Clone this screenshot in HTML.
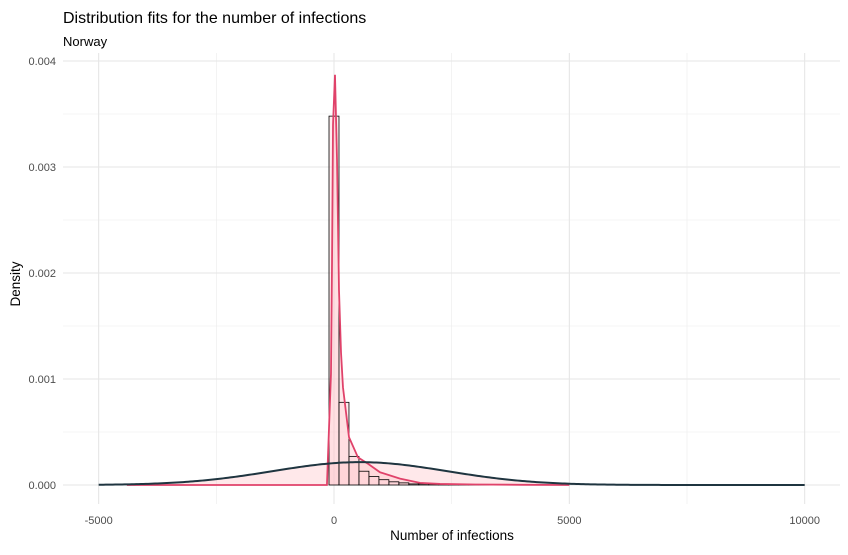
<!DOCTYPE html>
<html><head><meta charset="utf-8"><style>
body{margin:0;background:#fff;font-family:"Liberation Sans",Arial,sans-serif;}
</style></head><body>
<svg width="848" height="550" xmlns="http://www.w3.org/2000/svg">
<g id="grid"></g>
<g id="marks"></g>
<text x="63" y="23" font-size="16" fill="#000">Distribution fits for the number of infections</text>
<text x="63" y="46" font-size="13" fill="#000">Norway</text>
<text x="452" y="540" font-size="13.5" text-anchor="middle" fill="#000">Number of infections</text>
<text transform="translate(20,284) rotate(-90)" font-size="13.5" text-anchor="middle" fill="#000">Density</text>
<g id="ticks"></g>
</svg>
<script>
const xTicks=[-5000,0,5000,10000];
const xTickLabels=["-5000","0","5000","10000"];
const yTicks=[0,0.001,0.002,0.003,0.004];
const yTickLabels=["0.000","0.001","0.002","0.003","0.004"];
const binCenters=[0,212,424,636,848,1060,1272,1484,1696,1908,2120,2332,2544,2756,2968,3180,3392];
const binValues=[0.00348,0.00078,0.00027,0.00013,0.00008,0.00005,0.00003,0.00002,0.00001,0.00001,0.00001,0.000005,0.000005,0.000005,0.000005,0.000005,0.000005];
const binWidth=212;
const kdeX=[-4400,-150,-64,-42,-21,21,64,106,149,191,319,510,722,977,1402,1827,2252,3000,4000,5000];
const kdeY=[0,0,0.00105,0.0021,0.0034,0.00387,0.00307,0.00184,0.00125,0.00092,0.00045,0.00026,0.0002,0.00012,0.00006,0.00002,0.00001,0.000005,0.000002,0];
const normMean=550, normSd=1850, normFrom=-5000, normTo=10000;
const sx=v=>334+v*0.047067;
const sy=v=>485-v*106000;
const NS="http://www.w3.org/2000/svg";
function mk(tag,attrs,parent){const e=document.createElementNS(NS,tag);for(const k in attrs)e.setAttribute(k,attrs[k]);parent.appendChild(e);return e;}
const grid=document.getElementById('grid'),marks=document.getElementById('marks'),ticks=document.getElementById('ticks');
// minor grid
for(let i=0;i<xTicks.length-1;i++){const v=(xTicks[i]+xTicks[i+1])/2;const l=mk('line',{x1:sx(v),x2:sx(v),y1:53,y2:504,stroke:'#ebebeb','stroke-width':0.6},grid);
}
for(let i=0;i<yTicks.length-1;i++){const v=(yTicks[i]+yTicks[i+1])/2;const l=mk('line',{x1:63,x2:840,y1:sy(v),y2:sy(v),stroke:'#ebebeb','stroke-width':0.6},grid);
}
xTicks.forEach((v,i)=>{const l=mk('line',{x1:sx(v),x2:sx(v),y1:53,y2:504,stroke:'#e6e6e6','stroke-width':1.1},grid);

const t=mk('text',{x:sx(v),y:524,'font-size':11,'text-anchor':'middle',fill:'#4d4d4d'},ticks);t.textContent=xTickLabels[i];
});
yTicks.forEach((v,i)=>{const l=mk('line',{x1:63,x2:840,y1:sy(v),y2:sy(v),stroke:'#e6e6e6','stroke-width':1.1},grid);

const t=mk('text',{x:56,y:sy(v)+4,'font-size':11,'text-anchor':'end',fill:'#4d4d4d'},ticks);t.textContent=yTickLabels[i];
});
// normal
const npts=[];for(let v=normFrom;v<=normTo;v+=50){const d=Math.exp(-0.5*((v-normMean)/normSd)**2)/(normSd*2.5066);npts.push([sx(v),sy(d)]);}
const fillPts=npts.filter(p=>p[0]>=sx(-4400)&&p[0]<=sx(5000));
const nf=mk('path',{d:'M'+fillPts[0][0]+','+sy(0)+'L'+fillPts.map(p=>p.join(',')).join('L')+'L'+fillPts[fillPts.length-1][0]+','+sy(0)+'Z',fill:'rgba(255,180,185,0.3)'},marks);

// kde fill
const kp=kdeX.map((v,i)=>[sx(v),sy(kdeY[i])]);
const kf=mk('path',{d:'M'+kp[0][0]+','+sy(0)+'L'+kp.map(p=>p.join(',')).join('L')+'L'+kp[kp.length-1][0]+','+sy(0)+'Z',fill:'rgba(255,180,185,0.3)'},marks);

// bars
binCenters.forEach((c,i)=>{const x0=sx(c-binWidth/2),x1=sx(c+binWidth/2);
const r=mk('rect',{x:x0,y:sy(binValues[i]),width:x1-x0,height:sy(0)-sy(binValues[i]),fill:'rgba(255,210,215,0.4)',stroke:'#000','stroke-width':0.8},marks);
});
const kl=mk('polyline',{points:kp.map(p=>p.join(',')).join(' '),fill:'none',stroke:'#e0426a','stroke-width':1.8},marks);

const nl=mk('polyline',{points:npts.map(p=>p.join(',')).join(' '),fill:'none',stroke:'#1f3540','stroke-width':2},marks);

</script>
</body></html>
